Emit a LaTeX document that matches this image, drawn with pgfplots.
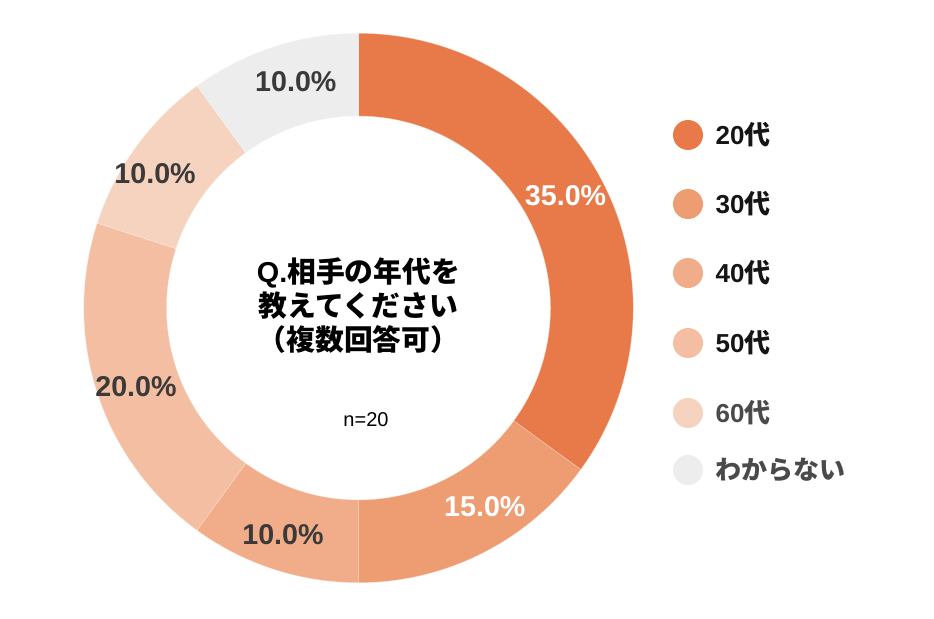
\documentclass[border=0pt]{standalone}
\usepackage{fontspec}
\setmainfont{Liberation Sans}
\newfontfamily\cjk{Noto Sans CJK JP}
\usepackage{pgfplots}
\pgfplotsset{compat=1.18}
\usepackage{pgfplotstable}
\definecolor{c20}{HTML}{E87A4A}
\definecolor{c30}{HTML}{EE9C72}
\definecolor{c40}{HTML}{F1AD89}
\definecolor{c50}{HTML}{F3BEA1}
\definecolor{c60}{HTML}{F6D3BF}
\definecolor{cna}{HTML}{EDEDED}
\definecolor{lab}{HTML}{3C3A39}
\definecolor{legdark}{HTML}{151515}
\definecolor{leggray}{HTML}{4A4A4A}
% value (%), fill colour, label colour, label angle nudge (deg), label radius (px)
\pgfplotstableread[col sep=comma]{
cat,value,fillc,textc,dang,lrad
20s,35,c20,white,1.4,235.4
30s,15,c30,white,5.4,235.8
40s,10,c40,lab,-0.4,239.2
50s,20,c50,lab,1.5,236.1
60s,10,c60,lab,2.6,243.7
na,10,cna,lab,-2.5,234.5
}\donutdata
\begin{document}
\begin{tikzpicture}[pct/.style={font=\bfseries\fontsize{21.5}{24}\selectfont},
  leg/.style={font=\bfseries\fontsize{19.5}{22}\selectfont, anchor=west}]
\useasboundingbox (0,0) rectangle (700.5pt,463.5pt);
\begin{axis}[at={(0,0)}, anchor=south west, x=0.75pt, y=0.75pt,
  xmin=0, xmax=934, ymin=0, ymax=618, y dir=reverse, hide axis, clip=false]
\pgfplotstablegetrowsof{\donutdata}
\pgfmathtruncatemacro\nrows{\pgfplotsretval-1}
\def\cum{0}
\pgfplotsforeachungrouped \i in {0,...,\nrows}{%
  \pgfplotstablegetelem{\i}{value}\of\donutdata \let\v\pgfplotsretval
  \pgfplotstablegetelem{\i}{fillc}\of\donutdata \let\fc\pgfplotsretval
  \pgfplotstablegetelem{\i}{textc}\of\donutdata \let\tc\pgfplotsretval
  \pgfplotstablegetelem{\i}{dang}\of\donutdata \let\da\pgfplotsretval
  \pgfplotstablegetelem{\i}{lrad}\of\donutdata \let\lr\pgfplotsretval
  \pgfmathsetmacro\aone{90-3.6*\cum}
  \pgfmathsetmacro\atwo{90-3.6*(\cum+\v)}
  \pgfmathsetmacro\amid{(\aone+\atwo)/2+\da}
  \pgfmathsetmacro\lrpt{0.75*\lr}
  \pgfmathtruncatemacro\vlab{\v}
  \pgfmathsetmacro\cum{\cum+\v}
  \edef\temp{%
    \noexpand\fill[\fc, draw=white!60!\fc, line width=0.2pt] ([shift={(\aone:206pt)}]axis cs:358.5,308) arc[start angle=\aone, end angle=\atwo, radius=206pt] -- ([shift={(\atwo:144pt)}]axis cs:358.5,308) arc[start angle=\atwo, end angle=\aone, radius=144pt] -- cycle;
    \noexpand\node[pct, text=\tc] at ([shift={(\amid:\lrpt pt)}]axis cs:358.5,308) {\vlab.0\noexpand\%};
  }%
  \temp
}
% centre text
\node[align=center, font=\bfseries\fontsize{21.6}{25.5}\selectfont, text=black] at (axis cs:358.5,306)
  {Q.{\cjk 相手の年代を}\\{\cjk 教えてください}\\{\cjk （複数回答可）}};
\node[font=\fontsize{15}{18}\selectfont, text=black] at (axis cs:366,420) {n=20};
% legend
\fill[c20] (axis cs:688,135) circle[radius=11.25pt];
\fill[c30] (axis cs:688,204) circle[radius=11.25pt];
\fill[c40] (axis cs:688,273) circle[radius=11.25pt];
\fill[c50] (axis cs:688,343) circle[radius=11.25pt];
\fill[c60] (axis cs:688,413) circle[radius=11.25pt];
\fill[cna] (axis cs:688,470) circle[radius=11.25pt];
\node[leg, text=legdark] at (axis cs:711,135) {20{\cjk 代}};
\node[leg, text=legdark] at (axis cs:711,204) {30{\cjk 代}};
\node[leg, text=legdark] at (axis cs:711,273) {40{\cjk 代}};
\node[leg, text=legdark] at (axis cs:711,343) {50{\cjk 代}};
\node[leg, text=leggray] at (axis cs:711,413) {60{\cjk 代}};
\node[leg, text=leggray] at (axis cs:711,470) {{\cjk わからない}};
\end{axis}
\end{tikzpicture}
\end{document}
